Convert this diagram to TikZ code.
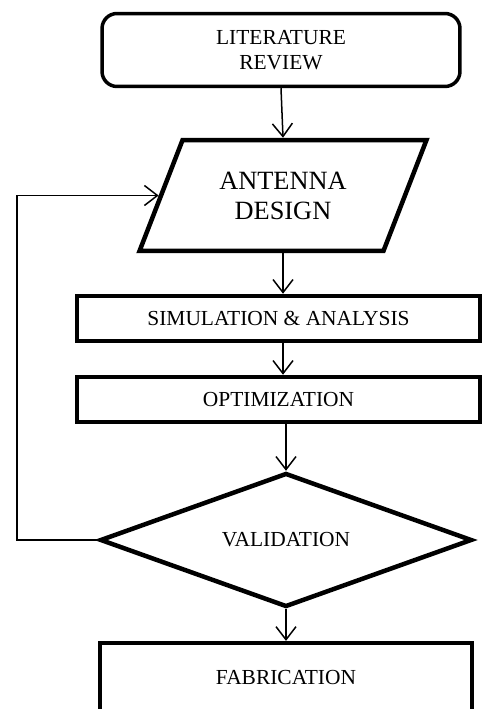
\documentclass[tikz,border=0pt]{standalone}
\usepackage{fontspec}
\setmainfont{Liberation Serif}
\usetikzlibrary{arrows.meta,shapes.geometric}
\tikzset{
	txt/.style={align=center, font=\fontsize{12.2}{14.2}\selectfont},
	roundbox/.style={txt, draw, rounded corners=0.3cm, line width=0.07cm, minimum width=7.16cm, minimum height=1.46cm},
	slantbox/.style={draw, line width=0.09cm, trapezium, trapezium left angle=54, trapezium right angle=126, trapezium stretches body=true, minimum width=5.74cm, minimum height=2.22cm, align=center, font=\fontsize{15}{17}\selectfont},
	stepbox/.style={txt, draw, line width=0.09cm, minimum width=8.06cm, minimum height=0.9cm},
	endbox/.style={txt, draw, line width=0.085cm, minimum width=7.44cm, minimum height=1.4cm},
	decision/.style={txt, draw, line width=0.09cm, diamond, aspect=2.8, minimum width=7.44cm, minimum height=2.68cm},
	flow/.style={line width=0.03cm, -{Straight Barb[length=0.26cm, width=0.4cm]}}
}

\begin{document}
\begin{tikzpicture}[x=0.02cm, y=-0.02cm]
			%%%%% START %%%%%
			
			\useasboundingbox (0, 0) rectangle (482, 709);
			
			\node[roundbox] (lit) at (281, 50) {LITERATURE\\REVIEW};
			\node[slantbox] (ant) at (283, 195.5) {ANTENNA\\DESIGN};
			
			\node[stepbox] (sim) at (278.5, 318.5) {SIMULATION \& ANALYSIS};
			\node[stepbox] (opt) at (278.5, 399.5) {OPTIMIZATION};
			
			\node[decision] (val) at (286, 540) {VALIDATION};
			\node[endbox] (fab) at (286, 678) {FABRICATION};
			
			\coordinate (loop) at (17, 540);
			
			\draw[flow] (lit.south) -- (ant.north);
			\draw[flow] (ant.south) -- (ant.south |- sim.north);
			\draw[flow] (sim.south -| ant.south) -- (opt.north -| ant.south);
			\draw[flow] (opt.south -| val.north) -- (val.north);
			\draw[flow] (val.south) -- (fab.north);
			
			% back to the design step
			\draw[flow] (val.west) -- (loop) |- (ant.west);
			
			%%%%% END %%%%%
		\end{tikzpicture}
\end{document}
